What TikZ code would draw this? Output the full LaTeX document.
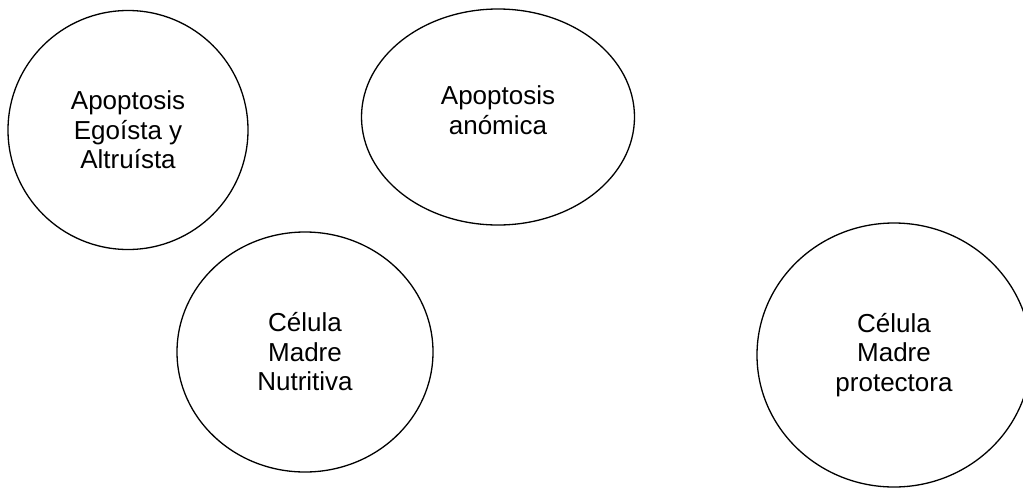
\documentclass[tikz,border=0pt]{standalone}
\usepackage{fontspec}
\setmainfont{Liberation Sans}
\usepackage{tikz}
\usetikzlibrary{shapes,positioning}

\begin{document}
\begin{tikzpicture}[
        x=1pt, y=-1pt,
        every node/.style={align=center, font=\fontsize{26}{29.5}\selectfont},
        cell/.style={draw, ellipse, line width=1.3pt, inner sep=0pt}
    ]

    \clip (0,0) rectangle (1023,488);

    % Nodes
    \node[cell, minimum width=240pt, minimum height=239pt] (egoista) at (128,130)
        {Apoptosis\\ Egoísta y\\ Altruísta};
    \node[cell, minimum width=273pt, minimum height=216pt] (anomica) at (498,117) {};
    \node (anomicatext) at ([yshift=7pt]anomica.center) {Apoptosis\\ anómica};

    \node[cell, minimum width=256pt, minimum height=240pt] (nutritiva) at (305,352)
        {Célula\\ Madre\\ Nutritiva};
    \node[cell, minimum width=274pt, minimum height=264pt] (protectora) at (894,355)
        {Célula\\ Madre\\ protectora};

\end{tikzpicture}
\end{document}
